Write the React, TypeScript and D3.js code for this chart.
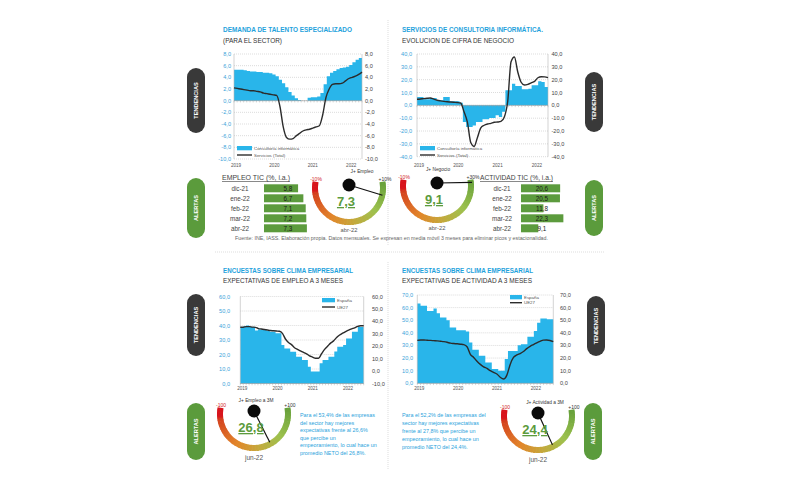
import React from 'react';
import * as d3 from 'd3';

const FONT = '"Liberation Sans", Arial, sans-serif';
const CYAN = '#29b5ea';
const TITLE = '#1fa2dc';
const DARK = '#2b2b2b';
const GREEN = '#5c9b3d';

// monthly, ene-19 .. abr-22
const talentoArea = [5.3, 5.3, 5.3, 5.2, 5.1, 5.0, 5.0, 4.9, 4.9, 4.8, 4.8, 4.7, 4.5, 4.2, 3.6, 3.0, 2.3, 1.5, 0.9, 0.4, 0.1, 0, 0, 0.5, 0.6, 0.6, 0.7, 1.3, 2.8, 4.2, 4.8, 5.1, 5.4, 5.6, 5.7, 5.8, 6.1, 6.6, 7.0, 7.3];
const talentoLine = [2.2, 2.1, 2.0, 1.9, 1.8, 1.7, 1.7, 1.6, 1.5, 1.3, 1.2, 1.1, 1.0, 0.9, -1.0, -4.5, -6.3, -6.6, -6.5, -6.0, -5.6, -5.2, -5.0, -4.9, -4.7, -4.5, -4.3, -2.5, 0.5, 2.0, 2.8, 2.9, 2.9, 3.0, 3.4, 3.8, 4.0, 4.2, 4.5, 4.9];

const negocioArea = [6.5, 6.5, 4.7, 4.7, 5.7, 5.7, 3.9, 3.9, 6.5, 6.5, 3.1, 3.1, 3.1, 2.0, -13, -16.9, -16.9, -15.6, -13, -13, -10.9, -10.9, -9.9, -9.9, -7.8, -9, -5, 11.7, 11.7, 16.9, 15, 15, 12.5, 12.5, 13, 15.6, 15.6, 18.7, 18.2, 14.3];
const negocioLine = [4.7, 5.0, 5.2, 5.5, 5.7, 4.8, 4.0, 3.5, 3.1, 2.8, 2.6, 2.4, 2.2, 1.8, -5, -13, -29, -32, -25, -17.5, -15.5, -14.5, -14, -13.2, -13, -12.5, -9, 3, 34, 37.7, 26, 18, 15.8, 16.3, 17.5, 18.7, 21.5, 22.3, 22.2, 21.6];

// monthly, ene-19 .. jun-22
const empleoEsp = [39, 39.5, 40, 39, 39, 36.5, 37.3, 37.3, 37.3, 36.2, 35.7, 35.7, 34.6, 34.6, 26.5, 24.2, 24.2, 21.9, 21.9, 18.5, 18.5, 16.2, 16.2, 11.6, 8.2, 8.2, 8.2, 14, 16.2, 16.2, 18.5, 18.5, 22, 25.4, 25.4, 26.5, 31, 31, 35.7, 35.7, 39, 39];
const empleoUE = [35.2, 35.3, 35.8, 35.8, 35.4, 35.2, 34.2, 33.8, 33.4, 33.0, 32.6, 32.4, 32.2, 32.0, 30.3, 25.8, 23, 21.3, 18.8, 17.5, 16.2, 15, 13.8, 12.3, 11.3, 10.3, 10.3, 14, 17.5, 20, 22.5, 24.3, 27, 29, 30.5, 31.8, 33, 34, 34.8, 36, 36.5, 36.5];

const actividadEsp = [63.3, 61.4, 61.4, 57.4, 57.4, 59.3, 55.6, 52.2, 52.2, 50, 44.3, 44.3, 42.1, 42.1, 42.1, 41, 32.4, 26.6, 26.6, 21.8, 21.8, 16.5, 16.5, 11.3, 11.3, 9.9, 9.9, 19.2, 25.7, 25.7, 25.7, 30.2, 31, 31, 37, 37, 41.5, 48.1, 51.3, 51.3, 50.8, 50.8];
const actividadUE = [34.0, 34.3, 34.3, 34.1, 34, 33.8, 33.6, 33.3, 33, 32.5, 31.8, 31.5, 31.3, 31, 30.6, 29, 23, 20.5, 17.5, 15, 13, 11.8, 10, 8.7, 7.4, 4.8, 3.4, 6.5, 15, 20.5, 22.5, 23.6, 25.2, 27.5, 29.3, 30.7, 32, 33.2, 34.2, 34.3, 33.9, 33];

const yearLabels = ['2019', '2020', '2021', '2022'];

const tableMonths = ['dic-21', 'ene-22', 'feb-22', 'mar-22', 'abr-22'];
const empleoTic = [5.8, 6.7, 7.1, 7.2, 7.3];
const actividadTic = [20.6, 20.5, 11.8, 22.3, 9.1];

const gaugeNames = ['J+ Empleo', 'J+ Negocio', 'J+ Empleo a 3M', 'J+ Actividad a 3M'];
const gaugeValues = [7.3, 9.1, 26.8, 24.4];
const gaugeMinLabels = ['-10%', '-10%', '-100', '-100'];
const gaugeMaxLabels = ['+10%', '+30%', '+100', '+100'];
// the negocio dial in the source still runs on a ±10 scale
const gaugeScales: [number, number][] = [[-10, 10], [-10, 10], [-100, 100], [-100, 100]];
const gaugeDates = ['abr-22', 'abr-22', 'jun-22', 'jun-22'];

const empleoNote = ['Para el 53,4% de las empresas', 'del sector hay mejores', 'expectativas frente al 26,6%', 'que percibe un', 'empeoramiento, lo cual hace un', 'promedio NETO del 26,8%.'];
const actividadNote = ['Para el 52,2% de las empresas del', 'sector hay mejores expectativas', 'frente al 27,8% que percibe un', 'empeoramiento, lo cual hace un', 'promedio NETO del 24,4%.'];

const fuente = 'Fuente: INE, IASS. Elaboración propia. Datos mensuales. Se expresan en media móvil 3 meses para eliminar picos y estacionalidad.';

const fmt = (v: number) => v.toFixed(1).replace('.', ',');

type Box = { x0: number; x1: number; yTop: number; yBot: number };

function TimeChart({ box, area, line, left, right, leftX, rightX, labelY, legend, names, legendW }: {
  box: Box; area: number[]; line: number[];
  left: [number, number]; right: [number, number];
  leftX: number; rightX: number; labelY: number;
  legend: { x: number; y: number; dy: number }; names: string[]; legendW: number;
}) {
  const n = area.length;
  const x = d3.scaleLinear().domain([0, n]).range([box.x0, box.x1]);
  const xl = d3.scaleLinear().domain([0, n - 1]).range([box.x0, box.x1]);
  const yL = d3.scaleLinear().domain(left).range([box.yBot, box.yTop]);
  const yR = d3.scaleLinear().domain(right).range([box.yBot, box.yTop]);
  const pts: [number, number][] = [...area.map((v, i) => [i, v] as [number, number]), [n, area[n - 1]]];
  const areaPath = d3.area<[number, number]>()
    .x(d => x(d[0])).y0(yL(0)).y1(d => yL(d[1]))
    .curve(d3.curveStepAfter)(pts) || '';
  const linePath = d3.line<number>()
    .x((_, i) => xl(i)).y(d => yR(d))
    .curve(d3.curveMonotoneX)(line) || '';
  const lTicks = d3.range(left[0], left[1] + 0.01, 10 * (left[1] - left[0] > 30 ? 1 : 0.2));
  const rTicks = d3.range(right[0], right[1] + 0.01, 10 * (right[1] - right[0] > 30 ? 1 : 0.2));
  const zero = yL(0);
  return (
    <g fontFamily={FONT}>
      {lTicks.map(t => (
        <line key={'g' + t} x1={box.x0} x2={box.x1} y1={yL(t)} y2={yL(t)}
          stroke="#b8b8b8" strokeWidth={0.5} strokeDasharray="1,1" />
      ))}
      <path d={areaPath} fill={CYAN} />
      <line x1={box.x0} x2={box.x0} y1={box.yTop} y2={box.yBot} stroke="#b5b5b5" strokeWidth={0.6} />
      <line x1={box.x1} x2={box.x1} y1={box.yTop} y2={box.yBot} stroke="#b5b5b5" strokeWidth={0.6} />
      <line x1={box.x0} x2={box.x1} y1={zero} y2={zero} stroke="#9a9a9a" strokeWidth={0.6} />
      {d3.range(n + 1).map(i => (
        <line key={'t' + i} x1={x(i)} x2={x(i)} y1={zero} y2={zero + 1.8} stroke="#9a9a9a" strokeWidth={0.4} />
      ))}
      <path d={linePath} fill="none" stroke={DARK} strokeWidth={1.4} />
      {lTicks.map(t => (
        <text key={'l' + t} x={leftX} y={yL(t) + 2} textAnchor="end" fontSize={5.6} fill="#3ba3d9">{fmt(t)}</text>
      ))}
      {rTicks.map(t => (
        <text key={'r' + t} x={rightX} y={yR(t) + 2} fontSize={5.6} fill="#444">{fmt(t)}</text>
      ))}
      {yearLabels.map((lab, k) => (
        <text key={lab} x={x(12 * k) + 2} y={labelY} textAnchor="middle" fontSize={4.6} fill="#555">{lab}</text>
      ))}
      <rect x={legend.x} y={legend.y} width={legendW} height={4.3} fill={CYAN} />
      <text x={legend.x + legendW + 2} y={legend.y + 3.6} fontSize={4.4} fill="#555">{names[0]}</text>
      <line x1={legend.x} x2={legend.x + legendW} y1={legend.y + legend.dy} y2={legend.y + legend.dy} stroke={DARK} strokeWidth={1.4} />
      <text x={legend.x + legendW + 2} y={legend.y + legend.dy + 1.6} fontSize={4.4} fill="#555">{names[1]}</text>
    </g>
  );
}

const gaugeColor = d3.scaleLinear<string>()
  .domain([0, 0.07, 0.1, 0.35, 0.55, 0.75, 1])
  .range(['#d8141c', '#d8141c', '#d4431f', '#e2862a', '#c3aa3d', '#9cc14d', '#66a03b'])
  .interpolate(d3.interpolateRgb);

function Gauge({ i, cx, cy, tdx }: { i: number; cx: number; cy: number; tdx: number }) {
  const N = 80;
  const sweep = 100;
  const arc = d3.arc<{ a0: number; a1: number }>()
    .innerRadius(31).outerRadius(37)
    .startAngle(d => d.a0).endAngle(d => d.a1);
  const segs = d3.range(N).map(k => {
    const t0 = -sweep + (2 * sweep * k) / N;
    const t1 = -sweep + (2 * sweep * (k + 1)) / N;
    return { a0: ((180 - t0) * Math.PI) / 180 + 0.01, a1: ((180 - t1) * Math.PI) / 180 - 0.01, c: gaugeColor((k + 0.5) / N) };
  });
  const [mn, mx] = gaugeScales[i];
  const f = Math.max(0, Math.min(1, (gaugeValues[i] - mn) / (mx - mn)));
  const th = ((-sweep + 2 * sweep * f) * Math.PI) / 180;
  const kx = cx;
  const ky = cy - 3;
  const big = i >= 2;
  return (
    <g fontFamily={FONT}>
      {segs.map((s, k) => (
        <path key={k} d={arc(s) || ''} transform={`translate(${cx},${cy})`} fill={s.c} />
      ))}
      <line x1={kx} y1={ky} x2={kx + 35 * Math.sin(th)} y2={ky + 35 * Math.cos(th)} stroke="#111" strokeWidth={1.2} />
      <circle cx={kx} cy={ky} r={6.5} fill="#0a0a0a" />
      <text x={cx + tdx} y={cy - (big ? 12 : 15)} textAnchor="middle" fontSize={4.8} fill="#333">{gaugeNames[i]}</text>
      <text x={cx - 33} y={cy - 7} textAnchor="middle" fontSize={5} fill="#d0201e">{gaugeMinLabels[i]}</text>
      <text x={cx + 36} y={cy - 7} textAnchor="middle" fontSize={5} fill="#333">{gaugeMaxLabels[i]}</text>
      <text x={cx - 3} y={cy + 18} textAnchor="middle" fontSize={13} fontWeight="bold" fill={GREEN}
        style={{ textDecoration: 'underline' }}>{fmt(gaugeValues[i])}</text>
      <text x={cx} y={cy + (big ? 46 : 44)} textAnchor="middle" fontSize={big ? 6.5 : 5.8} fill="#555">{gaugeDates[i]}</text>
    </g>
  );
}

function Table({ header, hx, hLen, values, max, labelX, barX, barW, valueX }: {
  header: string; hx: number; hLen: number; values: number[]; max: number;
  labelX: number; barX: number; barW: number; valueX: number;
}) {
  const y = d3.scaleBand<string>().domain(tableMonths).range([183.3, 233.3]).paddingInner(0.2).paddingOuter(0.1);
  const w = d3.scaleLinear().domain([0, max]).range([0, barW]);
  return (
    <g fontFamily={FONT}>
      <text x={hx} y={180} fontSize={6.3} fill="#444" textLength={hLen} lengthAdjust="spacingAndGlyphs"
        style={{ textDecoration: 'underline' }}>{header}</text>
      {tableMonths.map((m, k) => {
        const yy = y(m) || 0;
        return (
          <g key={m}>
            <text x={labelX} y={yy + y.bandwidth() / 2 + 2.2} textAnchor="middle" fontSize={6.3} fill="#444">{m}</text>
            <rect x={barX} y={yy} width={w(values[k])} height={y.bandwidth()} fill={GREEN} />
            <text x={valueX} y={yy + y.bandwidth() / 2 + 2.2} textAnchor="middle" fontSize={6.3} fill="#1a1a1a">{fmt(values[k])}</text>
          </g>
        );
      })}
    </g>
  );
}

function Pill({ x, y, h, fill, label }: { x: number; y: number; h: number; fill: string; label: string }) {
  return (
    <g>
      <rect x={x} y={y} width={18} height={h} rx={9} fill={fill} />
      <text transform={`translate(${x + 11},${y + h / 2}) rotate(-90)`} textAnchor="middle" fontSize={5.6}
        fontWeight="bold" fill="#fff" fontFamily={FONT}>{label}</text>
    </g>
  );
}

function Title({ x, y, title, tLen, sub, sLen }: { x: number; y: number; title: string; tLen: number; sub: string; sLen: number }) {
  return (
    <g fontFamily={FONT}>
      <text x={x} y={y} fontSize={6.4} fontWeight="bold" fill={TITLE} textLength={tLen} lengthAdjust="spacingAndGlyphs">{title}</text>
      <text x={x} y={y + 10.5} fontSize={6.4} fill="#333" textLength={sLen} lengthAdjust="spacingAndGlyphs">{sub}</text>
    </g>
  );
}

export default function App() {
  return (
    <div style={{ position: 'absolute', left: 0, top: 0 }}>
      <svg width={798} height={490} style={{ display: 'block', background: '#fff' }}>
        {/* separators */}
        <line x1={388} x2={388} y1={20} y2={246} stroke="#c8c8c8" strokeWidth={0.6} strokeDasharray="1,1" />
        <line x1={388} x2={388} y1={262} y2={470} stroke="#c8c8c8" strokeWidth={0.6} strokeDasharray="1,1" />
        <line x1={215} x2={605} y1={252} y2={252} stroke="#c8c8c8" strokeWidth={0.6} strokeDasharray="1,1" />

        <Title x={223} y={32} title="DEMANDA DE TALENTO ESPECIALIZADO" tLen={129} sub="(PARA EL SECTOR)" sLen={59} />
        <Title x={402} y={32} title="SERVICIOS DE CONSULTORIA INFORMÁTICA." tLen={141} sub="EVOLUCION DE CIFRA DE NEGOCIO" sLen={112} />
        <Title x={223} y={272.5} title="ENCUESTAS SOBRE CLIMA EMPRESARIAL" tLen={130} sub="EXPECTATIVAS DE EMPLEO A 3 MESES" sLen={120} />
        <Title x={402} y={272.5} title="ENCUESTAS SOBRE CLIMA EMPRESARIAL" tLen={131} sub="EXPECTATIVAS DE ACTIVIDAD A 3 MESES" sLen={130} />

        <TimeChart box={{ x0: 234, x1: 362, yTop: 54, yBot: 159 }} area={talentoArea} line={talentoLine}
          left={[-10, 8]} right={[-10, 8]} leftX={231} rightX={365} labelY={167}
          legend={{ x: 237, y: 146, dy: 9 }} names={['Consultoría informática', 'Servicios (Total)']} legendW={15} />
        <TimeChart box={{ x0: 417, x1: 548, yTop: 54, yBot: 156.7 }} area={negocioArea} line={negocioLine}
          left={[-40, 40]} right={[-40, 40]} leftX={412} rightX={551.5} labelY={167}
          legend={{ x: 420, y: 146, dy: 9 }} names={['Consultoría informática', 'Servicios (Total)']} legendW={15} />
        <TimeChart box={{ x0: 240.3, x1: 363.7, yTop: 296.5, yBot: 383.5 }} area={empleoEsp} line={empleoUE}
          left={[0, 60]} right={[-10, 60]} leftX={230} rightX={372} labelY={390}
          legend={{ x: 322, y: 298, dy: 9 }} names={['España', 'UE27']} legendW={13} />
        <TimeChart box={{ x0: 417.3, x1: 553.3, yTop: 295, yBot: 383.3 }} area={actividadEsp} line={actividadUE}
          left={[0, 70]} right={[0, 70]} leftX={413} rightX={560} labelY={390}
          legend={{ x: 510, y: 295, dy: 7.7 }} names={['España', 'UE27']} legendW={12} />

        <Table header="EMPLEO TIC (%, i.a.)" hx={222} hLen={68} values={empleoTic} max={8}
          labelX={240} barX={264} barW={47} valueX={288} />
        <Table header="ACTIVIDAD TIC (%, i.a.)" hx={480} hLen={73} values={actividadTic} max={25}
          labelX={502} barX={521} barW={47.5} valueX={542} />

        <Gauge i={0} cx={349} cy={188} tdx={13} />
        <Gauge i={1} cx={437} cy={186} tdx={1} />
        <Gauge i={2} cx={254} cy={414} tdx={2} />
        <Gauge i={3} cx={538} cy={416} tdx={7} />

        <text x={235} y={240} fontSize={4.8} fill="#666" fontFamily={FONT} textLength={313} lengthAdjust="spacingAndGlyphs">{fuente}</text>

        <g fontFamily={FONT} fontSize={5.4} fill="#2aa3dc">
          {empleoNote.map((s, k) => <text key={k} x={300} y={417 + k * 7.5}>{s}</text>)}
          {actividadNote.map((s, k) => <text key={k} x={402} y={417 + k * 7.9}>{s}</text>)}
        </g>

        <Pill x={187} y={68} h={65} fill="#393939" label="TENDENCIAS" />
        <Pill x={187} y={178} h={60} fill="#5b9b3c" label="ALERTAS" />
        <Pill x={585} y={72} h={60} fill="#393939" label="TENDENCIAS" />
        <Pill x={585} y={180} h={56} fill="#5b9b3c" label="ALERTAS" />
        <Pill x={187} y={294} h={62} fill="#393939" label="TENDENCIAS" />
        <Pill x={587} y={296} h={60} fill="#393939" label="TENDENCIAS" />
        <Pill x={187} y={403} h={57} fill="#5b9b3c" label="ALERTAS" />
        <Pill x={584} y={403} h={57} fill="#5b9b3c" label="ALERTAS" />
      </svg>
    </div>
  );
}
